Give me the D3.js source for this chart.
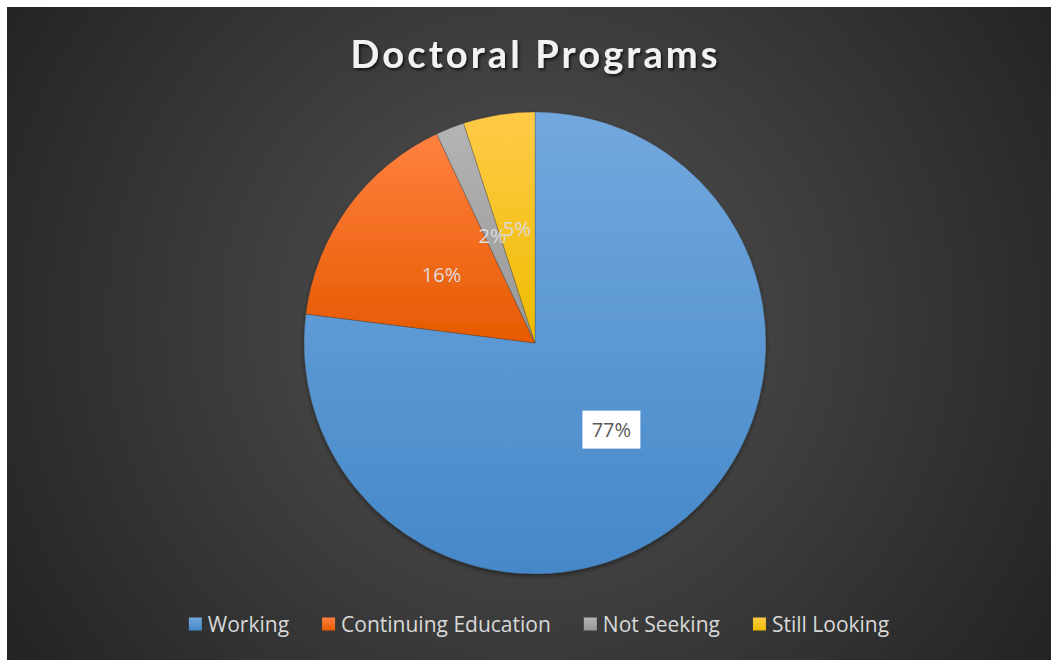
<!DOCTYPE html>
<html><head><meta charset="utf-8">
<script src="https://cdn.jsdelivr.net/npm/d3@7"></script>
<style>html,body{margin:0;padding:0;background:#fff;}svg{display:block;}</style>
</head><body>
<svg id="chart" width="1051" height="660"></svg>
<script>
const categories = ["Working", "Continuing Education", "Not Seeking", "Still Looking"];
const values = [77, 16, 2, 5];
const labels = ["77%", "16%", "2%", "5%"];
const colorTop = ["#72a8dd", "#ff8040", "#b4b4b4", "#ffcb48"];
const colorBottom = ["#4588c9", "#e65a00", "#979797", "#efbb00"];
const title = "Doctoral Programs";

const svg = d3.select("#chart");
const defs = svg.append("defs");

const bg = defs.append("radialGradient").attr("id", "bg")
  .attr("gradientUnits", "userSpaceOnUse").attr("cx", 530).attr("cy", 320).attr("r", 620);
bg.append("stop").attr("offset", 0).attr("stop-color", "#545454");
bg.append("stop").attr("offset", 1).attr("stop-color", "#232323");

categories.forEach((c, i) => {
  const g = defs.append("linearGradient").attr("id", "g" + i)
    .attr("x1", 0).attr("y1", 0).attr("x2", 0).attr("y2", 1);
  g.append("stop").attr("offset", 0).attr("stop-color", colorTop[i]);
  g.append("stop").attr("offset", 1).attr("stop-color", colorBottom[i]);
});

const ts = defs.append("filter").attr("id", "tshadow").attr("x", "-10%").attr("y", "-30%").attr("width", "120%").attr("height", "160%");
ts.append("feDropShadow").attr("dx", 1.5).attr("dy", 2).attr("stdDeviation", 1.5).attr("flood-color", "#000").attr("flood-opacity", 0.7);
const ps = defs.append("filter").attr("id", "pshadow").attr("x", "-10%").attr("y", "-10%").attr("width", "120%").attr("height", "120%");
ps.append("feDropShadow").attr("dx", 0).attr("dy", 2).attr("stdDeviation", 2).attr("flood-color", "#000").attr("flood-opacity", 0.45);

svg.append("rect").attr("x", 7).attr("y", 7).attr("width", 1044).attr("height", 653).attr("fill", "url(#bg)");

svg.append("text").attr("x", 534).attr("y", 68).attr("text-anchor", "middle")
  .attr("font-family", "Lato, 'Open Sans', sans-serif").attr("font-weight", "bold").attr("font-size", 38)
  .attr("fill", "#f2f2f2").attr("filter", "url(#tshadow)")
  .attr("textLength", 367).attr("lengthAdjust", "spacing")
  .text(title);

const cx = 535, cy = 343, R = 231;
const pie = d3.pie().sort(null).value(d => d)(values);
const arc = d3.arc().innerRadius(0).outerRadius(R);
const g = svg.append("g").attr("transform", `translate(${cx},${cy})`);
const slices = g.append("g").attr("filter", "url(#pshadow)");
slices.selectAll("path").data(pie).join("path")
  .attr("d", arc).attr("fill", (d, i) => `url(#g${i})`)
  .attr("stroke", "rgba(60,60,60,0.5)").attr("stroke-width", 0.6);

const lab = g.selectAll("g.lab").data(pie).join("g").attr("class", "lab")
  .attr("transform", d => `translate(${arc.centroid(d)})`);
lab.each(function(d, i) {
  const s = d3.select(this);
  if (i === 0) {
    s.append("rect").attr("x", -29).attr("y", -19).attr("width", 58).attr("height", 38).attr("fill", "#ffffff");
  }
  s.append("text").attr("text-anchor", "middle").attr("dy", "0.36em")
    .attr("font-family", "'Open Sans', sans-serif").attr("font-size", 20)
    .attr("fill", i === 0 ? "#595959" : "#dcdcdc").text(labels[i]);
});

// legend
const leg = svg.append("g");
const sq = 13, gap = 6, itemGap = 33, lfs = 21;
const items = leg.selectAll("g").data(categories).join("g");
items.append("rect").attr("width", sq).attr("height", sq).attr("y", -sq / 2)
  .attr("fill", (d, i) => `url(#g${i})`);
items.append("text").attr("x", sq + gap).attr("y", 7.5)
  .attr("font-family", "'Open Sans', sans-serif").attr("font-size", lfs)
  .attr("fill", "#d9d9d9").text(d => d);
const widths = [];
items.each(function() {
  const w = d3.select(this).select("text").node().getComputedTextLength();
  widths.push(sq + gap + w);
});
const total = d3.sum(widths) + itemGap * (widths.length - 1);
let start = 539 - total / 2;
items.attr("transform", (d, i) => {
  const t = `translate(${start},624)`;
  start += widths[i] + itemGap;
  return t;
});
</script>
</body></html>
